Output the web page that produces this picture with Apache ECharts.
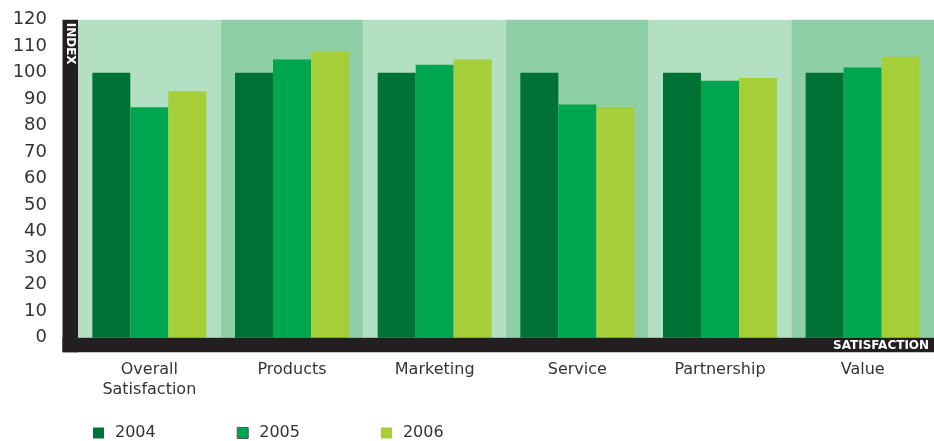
<!DOCTYPE html>
<html>
<head>
<meta charset="utf-8">
<script src="https://cdn.jsdelivr.net/npm/echarts@6/dist/echarts.min.js"></script>
<style>
html,body{margin:0;padding:0;background:#fff;}
#chart{width:934px;height:441px;}
</style>
</head>
<body>
<div id="chart"></div>
<script>
const categories = ['Overall\nSatisfaction', 'Products', 'Marketing', 'Service', 'Partnership', 'Value'];
const seriesNames = ['2004', '2005', '2006'];
const values2004 = [100, 100, 100, 100, 100, 100];
const values2005 = [87, 105, 103, 88, 97, 102];
const values2006 = [93, 108, 105, 87, 98, 106];
const yMin = 0, yMax = 120, yStep = 10;
const yAxisTitle = 'INDEX';
const xAxisTitle = 'SATISFACTION';

const W = 934, H = 441;
const gridLeft = 78, gridTop = 19.7, gridBottomY = 337.7, gridRight = -5;
const stripW = 15.5, stripH = 14.6;
const barW = 38;
const colors = ['#007236', '#00a54f', '#a6ce39'];
const FONT = 'DejaVu Sans';

const chart = echarts.init(document.getElementById('chart'), null, {renderer: 'canvas'});
const seriesData = [values2004, values2005, values2006];

chart.setOption({
  animation: false,
  color: colors,
  grid: {left: gridLeft, top: gridTop, bottom: H - gridBottomY, right: gridRight, containLabel: false},
  legend: {
    left: 93, top: 425, padding: 0,
    itemWidth: 11, itemHeight: 11, itemGap: 81,
    icon: 'rect',
    textStyle: {fontFamily: FONT, fontSize: 16, color: '#333', padding: [0, 0, 0, 6]},
    data: [
      {name: '2004'},
      {name: '2005', itemStyle: {borderColor: '#555', borderWidth: 1}},
      {name: '2006'}
    ]
  },
  xAxis: {
    type: 'category',
    data: categories,
    boundaryGap: true,
    axisLine: {show: false},
    axisTick: {show: false},
    axisLabel: {margin: 22, fontFamily: FONT, fontSize: 16, color: '#333', lineHeight: 20, interval: 0},
    splitLine: {show: false},
    splitArea: {show: true, interval: 0, areaStyle: {color: ['#b3dfc3', '#8fcfa6']}}
  },
  yAxis: {
    type: 'value',
    min: yMin, max: yMax, interval: yStep,
    axisLine: {show: false},
    axisTick: {show: false},
    axisLabel: {margin: 31, fontFamily: FONT, fontSize: 18, color: '#333'},
    splitLine: {show: false},
    splitArea: {show: false}
  },
  series: seriesNames.map((n, i) => ({
    name: n,
    type: 'bar',
    z: 3,
    data: seriesData[i],
    barWidth: barW,
    barGap: '0%',
    itemStyle: {color: colors[i], opacity: 1}
  })),
  graphic: [
    {type: 'rect', z: 100, shape: {x: gridLeft - stripW, y: gridTop, width: stripW, height: gridBottomY - gridTop + stripH}, style: {fill: '#231f20'}},
    {type: 'rect', z: 100, shape: {x: gridLeft - stripW, y: gridBottomY, width: W - gridLeft + stripW, height: stripH}, style: {fill: '#231f20'}},
    {type: 'text', z: 101, x: gridLeft - stripW / 2, y: gridTop + 3, rotation: -Math.PI / 2,
      style: {text: yAxisTitle, fill: '#fff', font: 'bold 12px "DejaVu Sans"', align: 'left', verticalAlign: 'middle'}},
    {type: 'text', z: 101, x: 833, y: gridBottomY + stripH / 2 + 0.5,
      style: {text: xAxisTitle, fill: '#fff', font: 'bold 12px "DejaVu Sans"', align: 'left', verticalAlign: 'middle'}}
  ]
});
</script>
</body>
</html>
